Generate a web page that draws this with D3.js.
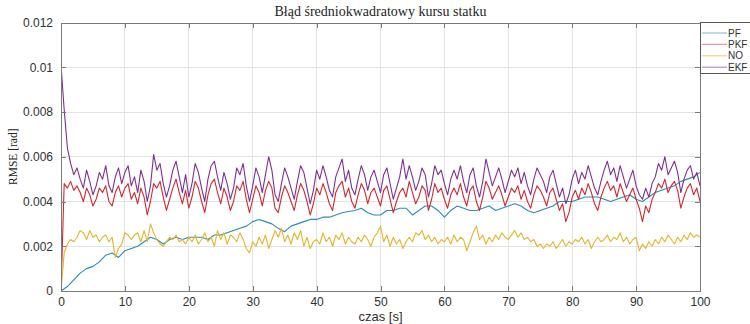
<!DOCTYPE html>
<html>
<head>
<meta charset="utf-8">
<script src="https://cdn.jsdelivr.net/npm/d3@7"></script>
<style>
html,body{margin:0;padding:0;background:#fff;}
svg{display:block;}
</style>
</head>
<body>
<svg id="chart" width="750" height="324"></svg>
<script>
// ---------------- data ----------------
const seriesNames = ["PF", "PKF", "NO", "EKF"];
const xTicks = [0, 10, 20, 30, 40, 50, 60, 70, 80, 90, 100];
const yTicks = [0, 0.002, 0.004, 0.006, 0.008, 0.01, 0.012];
const yTickLabels = ["0", "0.002", "0.004", "0.006", "0.008", "0.01", "0.012"];

// PF sampled every 1 s (t = 0..100)
const timePF = d3.range(0, 101, 1);
const valuesPF = [
  0, 0.0002, 0.0005, 0.0008, 0.0010, 0.0011, 0.0013, 0.0016, 0.0017, 0.0015,
  0.0018, 0.0019, 0.0020, 0.0022, 0.0024, 0.0023, 0.0021, 0.0023, 0.0024, 0.0023,
  0.0024, 0.0024, 0.0024, 0.0023, 0.0025, 0.0025, 0.0026, 0.0027, 0.0028, 0.0029,
  0.0031, 0.0032, 0.0031, 0.0030, 0.0028, 0.00265, 0.0029, 0.0030, 0.0031, 0.0032,
  0.0032, 0.0033, 0.0033, 0.0034, 0.0035, 0.00355, 0.0036, 0.0037, 0.0035, 0.0034,
  0.0034, 0.0036, 0.0036, 0.0037, 0.0037, 0.0034, 0.0036, 0.0038, 0.0038, 0.0036,
  0.0033, 0.0036, 0.0038, 0.0037, 0.0036, 0.0036, 0.0037, 0.0038, 0.0036, 0.0037,
  0.0038, 0.0039, 0.0038, 0.0036, 0.0035, 0.0036, 0.0037, 0.0038, 0.0040, 0.0040,
  0.0040, 0.0041, 0.0042, 0.0042, 0.0042, 0.0041, 0.0040, 0.0041, 0.0042, 0.0043,
  0.0041, 0.0040, 0.0042, 0.0044, 0.0045, 0.0046, 0.0047, 0.0049, 0.0050, 0.0051,
  0.0053
];

// PKF, NO, EKF sampled every 0.5 s (t = 0..100)
const timeHalf = d3.range(0, 201).map(i => i * 0.5);
const valuesPKF = [
  0, 0.0048, 0.0046, 0.0049, 0.0045, 0.0047, 0.0044, 0.0040, 0.0046, 0.0043, 0.0038, 0.0041, 0.0046, 0.0044, 0.0047, 0.0040, 0.0038, 0.0044, 0.0047, 0.0042,
  0.0046, 0.0048, 0.0041, 0.0044, 0.0039, 0.0046, 0.0042, 0.0034, 0.0040, 0.0048, 0.0046, 0.0049, 0.0042, 0.0036, 0.0041, 0.0046, 0.0050, 0.0044, 0.0039, 0.0045,
  0.0037, 0.0042, 0.0049, 0.0046, 0.0040, 0.0035, 0.0043, 0.0048, 0.0050, 0.0044, 0.0039, 0.0046, 0.0042, 0.0036, 0.0040, 0.0047, 0.0045, 0.0049, 0.0041, 0.0035,
  0.0041, 0.0047, 0.0044, 0.0038, 0.0045, 0.0049, 0.0046, 0.0037, 0.0035, 0.0042, 0.0047, 0.0044, 0.0040, 0.0036, 0.0043, 0.0048, 0.0045, 0.0040, 0.0034, 0.0039,
  0.0046, 0.0043, 0.0048, 0.0044, 0.0039, 0.0036, 0.0044, 0.0047, 0.0049, 0.0042, 0.0046, 0.0040, 0.0037, 0.0043, 0.0048, 0.0045, 0.0039, 0.0044, 0.0046, 0.0042,
  0.0038, 0.0045, 0.0047, 0.0041, 0.0035, 0.0040, 0.0044, 0.0046, 0.0042, 0.0049, 0.0044, 0.0039, 0.0042, 0.0047, 0.0045, 0.0036, 0.0041, 0.0048, 0.0044, 0.0046,
  0.0041, 0.0037, 0.0043, 0.0046, 0.0043, 0.0048, 0.0042, 0.0038, 0.0045, 0.0047, 0.0040, 0.0036, 0.0042, 0.0049, 0.0046, 0.0041, 0.0044, 0.0047, 0.0043, 0.0038,
  0.0042, 0.0046, 0.0044, 0.0047, 0.0041, 0.0045, 0.0040, 0.0037, 0.0043, 0.0047, 0.0045, 0.0042, 0.0038, 0.0044, 0.0046, 0.0041, 0.0036, 0.0039, 0.0031, 0.0035,
  0.0042, 0.0045, 0.0041, 0.0046, 0.0043, 0.0048, 0.0044, 0.0039, 0.0036, 0.0042, 0.0046, 0.0049, 0.0045, 0.0047, 0.0042, 0.0048, 0.0044, 0.0040, 0.0043, 0.0046,
  0.0041, 0.0037, 0.0031, 0.0038, 0.0035, 0.0041, 0.0044, 0.0048, 0.0046, 0.0050, 0.0044, 0.0047, 0.0049, 0.0045, 0.0037, 0.0042, 0.0046, 0.0048, 0.0043, 0.0046,
  0.0040
];
const valuesNO = [
  0, 0.0017, 0.0021, 0.0023, 0.0022, 0.0024, 0.0027, 0.0026, 0.0023, 0.0027, 0.0024, 0.0025, 0.0022, 0.0024, 0.0025, 0.0022, 0.0024, 0.0015, 0.0019, 0.0021,
  0.0026, 0.0025, 0.0023, 0.0025, 0.0026, 0.0022, 0.0027, 0.0022, 0.0030, 0.0026, 0.0023, 0.0021, 0.0020, 0.0022, 0.0024, 0.0023, 0.0025, 0.0022, 0.0023, 0.0021,
  0.0024, 0.0022, 0.0025, 0.0021, 0.0023, 0.0026, 0.0022, 0.0024, 0.0020, 0.0027, 0.0023, 0.0026, 0.0021, 0.0025, 0.0024, 0.0022, 0.0026, 0.0023, 0.0019, 0.0017,
  0.0022, 0.0020, 0.0024, 0.0021, 0.0025, 0.0019, 0.0023, 0.0027, 0.0024, 0.0028, 0.0022, 0.0025, 0.0021, 0.0026, 0.0023, 0.0027, 0.0020, 0.0024, 0.0019, 0.0022,
  0.0023, 0.0021, 0.0026, 0.0022, 0.0024, 0.0020, 0.0025, 0.0023, 0.0026, 0.0021, 0.0024, 0.0022, 0.0021, 0.0024, 0.0022, 0.0025, 0.0023, 0.0020, 0.0024, 0.0026,
  0.0029, 0.0022, 0.0025, 0.0020, 0.0024, 0.0021, 0.0023, 0.0019, 0.0022, 0.0024, 0.0022, 0.0026, 0.0025, 0.0027, 0.0023, 0.0025, 0.0022, 0.0024, 0.0021, 0.0023,
  0.0022, 0.0024, 0.0021, 0.0025, 0.0022, 0.0024, 0.0023, 0.0018, 0.0022, 0.0026, 0.0029, 0.0023, 0.0025, 0.0021, 0.0024, 0.0022, 0.0025, 0.0023, 0.0026, 0.0024,
  0.0023, 0.0025, 0.0027, 0.0024, 0.0026, 0.0023, 0.0024, 0.0022, 0.0023, 0.0020, 0.0021, 0.0019, 0.0021, 0.0020, 0.0022, 0.0019, 0.0021, 0.0023, 0.0020, 0.0022,
  0.0021, 0.0023, 0.0022, 0.0024, 0.0021, 0.0023, 0.0019, 0.0022, 0.0024, 0.0022, 0.0023, 0.0025, 0.0022, 0.0024, 0.0023, 0.0026, 0.0022, 0.0024, 0.0021, 0.0023,
  0.0024, 0.0018, 0.0021, 0.0019, 0.0022, 0.0020, 0.0023, 0.0021, 0.0024, 0.0022, 0.0025, 0.0023, 0.0021, 0.0024, 0.0022, 0.0025, 0.0023, 0.0026, 0.0024, 0.0025,
  0.0024
];
const valuesEKF = [
  0.0101, 0.0081, 0.0064, 0.0057, 0.0052, 0.0055, 0.0050, 0.0046, 0.0054, 0.0049, 0.0043, 0.0047, 0.0053, 0.0050, 0.0056, 0.0047, 0.0044, 0.0051, 0.0055, 0.0048,
  0.0053, 0.0056, 0.0047, 0.0051, 0.0044, 0.0054, 0.0049, 0.0040, 0.0047, 0.0061, 0.0054, 0.0057, 0.0048, 0.0042, 0.0047, 0.0054, 0.0058, 0.0051, 0.0044, 0.0052,
  0.0042, 0.0048, 0.0057, 0.0053, 0.0046, 0.0040, 0.0050, 0.0056, 0.0058, 0.0051, 0.0045, 0.0053, 0.0048, 0.0041, 0.0046, 0.0055, 0.0052, 0.0057, 0.0047, 0.0040,
  0.0047, 0.0055, 0.0051, 0.0044, 0.0052, 0.0060, 0.0054, 0.0043, 0.0040, 0.0048, 0.0055, 0.0051, 0.0046, 0.0041, 0.0049, 0.0056, 0.0053, 0.0046, 0.0039, 0.0045,
  0.0054, 0.0050, 0.0056, 0.0051, 0.0045, 0.0042, 0.0051, 0.0055, 0.0059, 0.0049, 0.0054, 0.0046, 0.0043, 0.0050, 0.0056, 0.0052, 0.0045, 0.0051, 0.0054, 0.0049,
  0.0044, 0.0052, 0.0055, 0.0048, 0.0041, 0.0046, 0.0051, 0.0059, 0.0050, 0.0056, 0.0051, 0.0045, 0.0049, 0.0055, 0.0052, 0.0042, 0.0048, 0.0056, 0.0052, 0.0054,
  0.0048, 0.0043, 0.0050, 0.0054, 0.0050, 0.0056, 0.0049, 0.0044, 0.0052, 0.0055, 0.0047, 0.0042, 0.0049, 0.0059, 0.0053, 0.0047, 0.0051, 0.0055, 0.0050, 0.0044,
  0.0049, 0.0054, 0.0051, 0.0055, 0.0048, 0.0053, 0.0047, 0.0043, 0.0050, 0.0055, 0.0052, 0.0049, 0.0044, 0.0051, 0.0054, 0.0048, 0.0042, 0.0046, 0.0039, 0.0043,
  0.0050, 0.0054, 0.0048, 0.0053, 0.0050, 0.0056, 0.0051, 0.0046, 0.0043, 0.0049, 0.0054, 0.0058, 0.0052, 0.0055, 0.0049, 0.0056, 0.0051, 0.0046, 0.0050, 0.0054,
  0.0047, 0.0043, 0.0041, 0.0046, 0.0042, 0.0048, 0.0051, 0.0057, 0.0054, 0.0060, 0.0052, 0.0055, 0.0058, 0.0053, 0.0044, 0.0050, 0.0054, 0.0056, 0.0050, 0.0053,
  0.0047
];

const titleText = "Błąd średniokwadratowy kursu statku";
const xLabelText = "czas [s]";
const yLabelText = "RMSE [rad]";

// ---------------- drawing ----------------
const svg = d3.select("#chart");
const W = 750, H = 324;
const plot = {left: 61, right: 700, top: 22.5, bottom: 291};

const x = d3.scaleLinear().domain([0, 100]).range([plot.left, plot.right]);
const y = d3.scaleLinear().domain([0, 0.012]).range([plot.bottom, plot.top]);

const colors = {PF: "#2a8cb8", PKF: "#d0282e", NO: "#e3b52c", EKF: "#7e3090"};
const legendColors = {PF: "#8ec3da", PKF: "#e49a9a", NO: "#efd68a", EKF: "#b58ec0"};

svg.append("rect").attr("width", W).attr("height", H).attr("fill", "#fff");

// grid
const grid = svg.append("g").attr("stroke", "#e3e3e3").attr("stroke-width", 1).attr("shape-rendering", "crispEdges");
xTicks.slice(1, -1).forEach(t => {
  grid.append("line").attr("x1", x(t)).attr("x2", x(t)).attr("y1", plot.top).attr("y2", plot.bottom);
});
yTicks.slice(1, -1).forEach(t => {
  grid.append("line").attr("x1", plot.left).attr("x2", plot.right).attr("y1", y(t)).attr("y2", y(t));
});

// axes (ticks inward, MATLAB style)
const axisColor = "#7a7a7a";
const labelColor = "#303030";
const tickFont = "'Liberation Sans', Arial, sans-serif";

const xAxisB = d3.axisBottom(x).tickValues(xTicks).tickSizeInner(-5).tickSizeOuter(0).tickPadding(6).tickFormat(d3.format("d"));
const xAxisT = d3.axisTop(x).tickValues(xTicks).tickSizeInner(-5).tickSizeOuter(0).tickFormat("");
const yAxisL = d3.axisLeft(y).tickValues(yTicks).tickSizeInner(-5).tickSizeOuter(0).tickPadding(8).tickFormat((d, i) => yTickLabels[i]);
const yAxisR = d3.axisRight(y).tickValues(yTicks).tickSizeInner(-5).tickSizeOuter(0).tickFormat("");

function styleAxis(g) {
  g.selectAll("path").attr("stroke", axisColor).attr("stroke-width", 1);
  g.selectAll("line").attr("stroke", axisColor).attr("stroke-width", 1);
  g.selectAll("text").attr("fill", labelColor).style("font-family", tickFont).style("font-size", "12px");
  g.attr("shape-rendering", "crispEdges");
}

// lines
const lineGen = d3.line().x(d => x(d[0])).y(d => y(d[1]));
const seriesData = {
  PF: timePF.map((t, i) => [t, valuesPF[i]]),
  PKF: timeHalf.map((t, i) => [t, valuesPKF[i]]),
  NO: timeHalf.map((t, i) => [t, valuesNO[i]]),
  EKF: timeHalf.map((t, i) => [t, valuesEKF[i]])
};
svg.append("defs").append("clipPath").attr("id", "clip")
  .append("rect").attr("x", plot.left).attr("y", plot.top).attr("width", plot.right - plot.left).attr("height", plot.bottom - plot.top);
const lines = svg.append("g").attr("clip-path", "url(#clip)");
seriesNames.forEach(name => {
  lines.append("path").datum(seriesData[name])
    .attr("fill", "none").attr("stroke", colors[name]).attr("stroke-width", 1.1)
    .attr("stroke-linejoin", "round").attr("d", lineGen);
});

svg.append("g").attr("transform", `translate(0,${plot.bottom})`).call(xAxisB).call(styleAxis);
svg.append("g").attr("transform", `translate(0,${plot.top})`).call(xAxisT).call(styleAxis);
svg.append("g").attr("transform", `translate(${plot.left},0)`).call(yAxisL).call(styleAxis);
svg.append("g").attr("transform", `translate(${plot.right},0)`).call(yAxisR).call(styleAxis);

// title
svg.append("text").attr("x", (plot.left + plot.right) / 2).attr("y", 16)
  .attr("text-anchor", "middle").attr("fill", "#1e1e1e")
  .style("font-family", "'Liberation Serif', 'Times New Roman', serif").style("font-size", "14px")
  .text(titleText);

// axis labels
svg.append("text").attr("x", (plot.left + plot.right) / 2).attr("y", 321)
  .attr("text-anchor", "middle").attr("fill", labelColor)
  .style("font-family", tickFont).style("font-size", "13px")
  .text(xLabelText);
svg.append("text").attr("transform", `translate(17,${(plot.top + plot.bottom) / 2}) rotate(-90)`)
  .attr("text-anchor", "middle").attr("fill", "#222")
  .style("font-family", "'Liberation Serif', 'Times New Roman', serif").style("font-size", "11.5px")
  .text(yLabelText);

// legend
const legend = svg.append("g");
legend.append("rect").attr("x", 700.5).attr("y", 22.5).attr("width", 60).attr("height", 51)
  .attr("fill", "#fff").attr("stroke", "#555").attr("stroke-width", 1).attr("shape-rendering", "crispEdges");
const legendY = [33, 44.4, 55.8, 67.2];
seriesNames.forEach((name, i) => {
  legend.append("line").attr("x1", 702).attr("x2", 727).attr("y1", legendY[i]).attr("y2", legendY[i])
    .attr("stroke", legendColors[name]).attr("stroke-width", 1.2);
  legend.append("text").attr("x", 728).attr("y", legendY[i] + 3.6)
    .attr("fill", labelColor).style("font-family", tickFont).style("font-size", "10px")
    .text(name);
});
</script>
</body>
</html>
